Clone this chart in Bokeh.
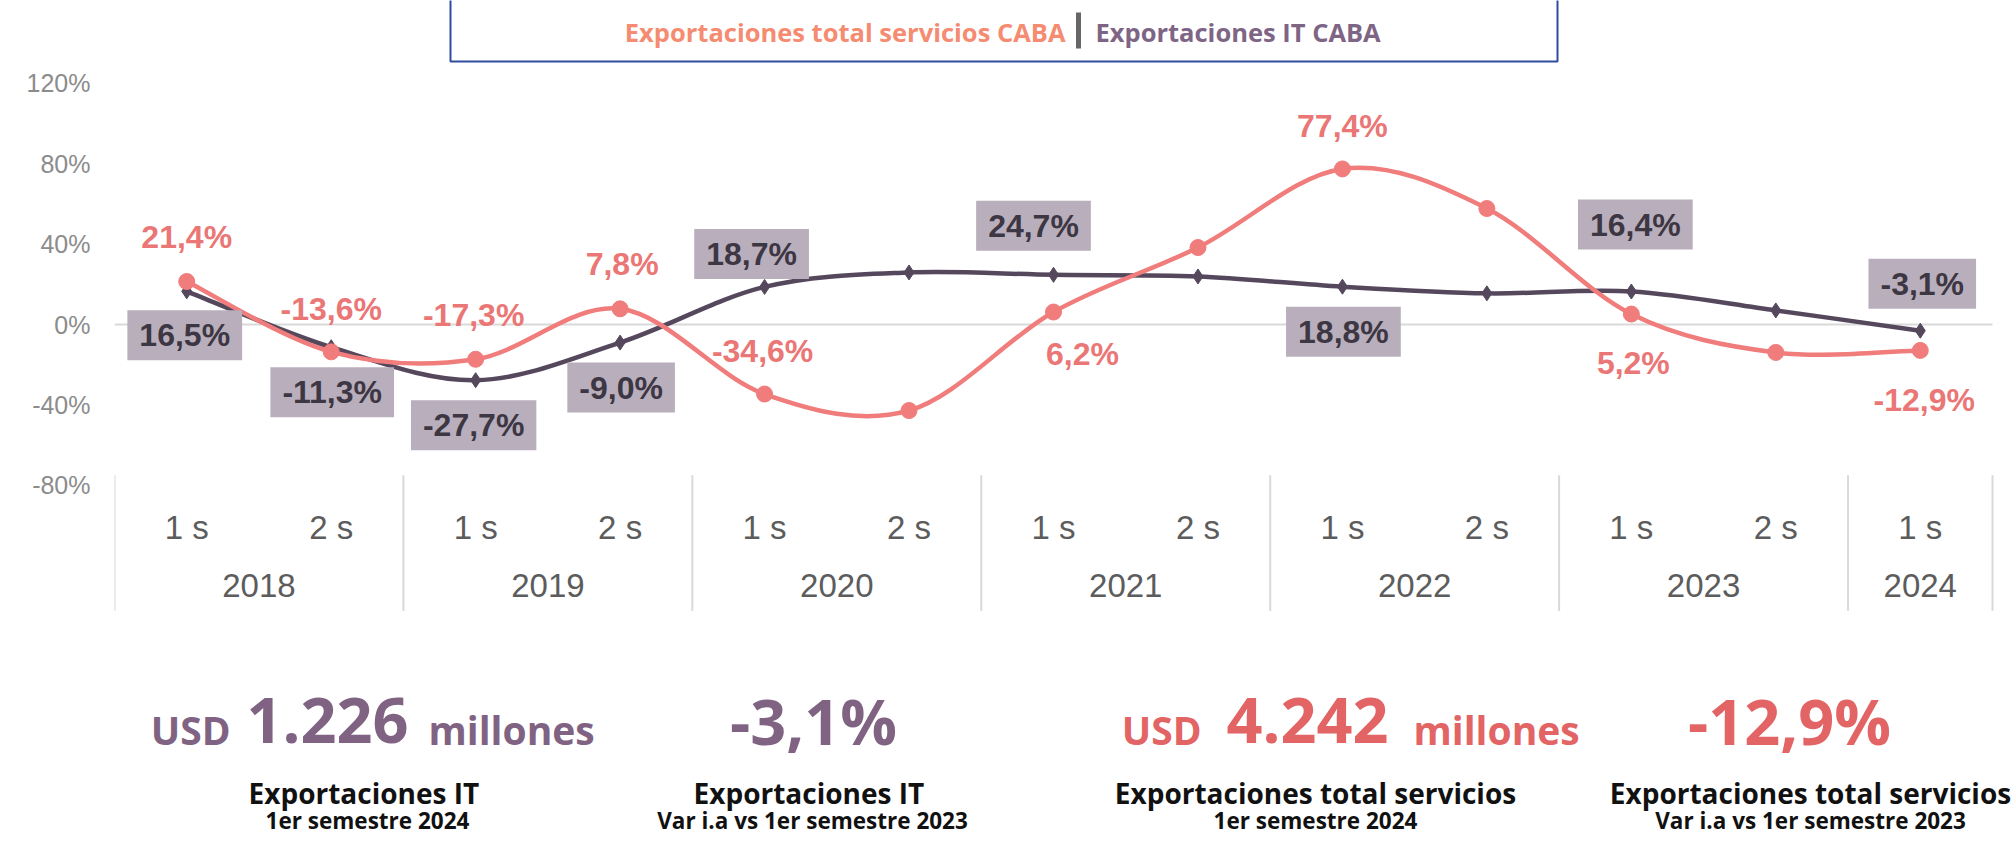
import numpy as np
from bokeh.plotting import figure
from bokeh.models import Range1d, FixedTicker, ColumnDataSource, PrintfTickFormatter
from bokeh.core.properties import value
from bokeh.embed import file_html
from bokeh.resources import INLINE

# ---------------- data ----------------
semestres = ["1 s", "2 s", "1 s", "2 s", "1 s", "2 s", "1 s", "2 s", "1 s", "2 s", "1 s", "2 s", "1 s"]
anios = ["2018", "2019", "2020", "2021", "2022", "2023", "2024"]
semestres_por_anio = [2, 2, 2, 2, 2, 2, 1]
total_servicios = [21.4, -13.6, -17.3, 7.8, -34.6, -42.8, 6.2, 38.3, 77.4, 57.7, 5.2, -13.9, -12.9]
exportaciones_it = [16.5, -11.3, -27.7, -9.0, 18.7, 25.9, 24.7, 23.9, 18.8, 15.5, 16.4, 7.0, -3.1]
etiquetados = [0, 1, 2, 3, 4, 6, 8, 10, 12]
y_ticks = [-80, -40, 0, 40, 80, 120]

legend_total = "Exportaciones total servicios CABA"
legend_it = "Exportaciones IT CABA"

kpi_prefix = ["USD", None, "USD", None]
kpi_value = ["1.226", "-3,1%", "4.242", "-12,9%"]
kpi_suffix = ["millones", None, "millones", None]
kpi_title = ["Exportaciones  IT", "Exportaciones  IT", "Exportaciones total servicios", "Exportaciones total servicios"]
kpi_sub = ["1er semestre 2024", "Var i.a vs 1er semestre 2023", "1er semestre 2024", "Var i.a vs 1er semestre 2023"]

# ---------------- styles / layout ----------------
C_TOTAL = "#f07c7c"
C_TOTAL_TXT = "#ea7676"
C_IT = "#55485d"
C_BOX = "#b9afbc"
C_BOX_TXT = "#3d3643"
C_LEG_TOTAL = "#f58b70"
C_LEG_IT = "#7e6585"
C_KPI_IT = "#806383"
C_KPI_TOT = "#e26464"
FONT = value("Liberation Sans")
KFONT = value("Open Sans")

W, H = 2016, 847
FL = 114                      # frame left (px)
SLOT = (1992 - FL) / 13.0     # px per semester slot
Y_ZERO_PX, PX_PER_UNIT = 324, 2.01
y_top = Y_ZERO_PX / PX_PER_UNIT
y_bot = -(H - Y_ZERO_PX) / PX_PER_UNIT

n = len(semestres)
xs = [i + 0.5 for i in range(n)]

p = figure(width=W, height=H, output_backend="svg", toolbar_location=None,
           x_range=Range1d(0, (W - FL) / SLOT), y_range=Range1d(y_bot, y_top),
           x_axis_type=None, min_border_left=FL, min_border_right=0,
           min_border_top=0, min_border_bottom=0)
p.outline_line_color = None
p.background_fill_color = "white"
p.border_fill_color = "white"
p.extra_x_ranges = {"px": Range1d(FL, W)}
p.extra_y_ranges = {"px": Range1d(H, 0)}

ax = p.yaxis[0]
ax.ticker = FixedTicker(ticks=y_ticks)
ax.formatter = PrintfTickFormatter(format="%d%%")
ax.axis_line_color = None
ax.major_tick_line_color = None
ax.minor_tick_line_color = None
ax.major_tick_in = 0
ax.major_tick_out = 0
ax.major_label_standoff = 24
ax.major_label_text_font = "Liberation Sans"
ax.major_label_text_font_size = "25px"
ax.major_label_text_color = "#8c8c8c"
p.ygrid.visible = False

# zero line
p.segment(x0=[0], x1=[n], y0=[0], y1=[0], line_color="#d9d9d9", line_width=2)

# year separators and category labels
bounds = [0] + [int(b) for b in np.cumsum(semestres_por_anio)]
p.segment(x0=bounds, x1=bounds, y0=[-75] * len(bounds), y1=[-142.5] * len(bounds),
          line_color="#d9d9d9", line_width=2)
p.text(x=xs, y=[-101] * n, text=semestres, text_font=FONT, text_font_size="33px",
       text_color="#5c5c5c", text_align="center", text_baseline="middle")
year_centers = [(bounds[i] + bounds[i + 1]) / 2 for i in range(len(anios))]
p.text(x=year_centers, y=[-130] * len(anios), text=anios, text_font=FONT, text_font_size="33px",
       text_color="#5c5c5c", text_align="center", text_baseline="middle")


def bezier_src(xv, yv, t=1 / 6):
    m = len(xv)
    d = dict(x0=[], y0=[], x1=[], y1=[], cx0=[], cy0=[], cx1=[], cy1=[])
    for i in range(m - 1):
        a = i - 1 if i > 0 else i
        b = i + 2 if i + 2 < m else i + 1
        d["x0"].append(xv[i]); d["y0"].append(yv[i])
        d["x1"].append(xv[i + 1]); d["y1"].append(yv[i + 1])
        d["cx0"].append(xv[i] + (xv[i + 1] - xv[a]) * t)
        d["cy0"].append(yv[i] + (yv[i + 1] - yv[a]) * t)
        d["cx1"].append(xv[i + 1] - (xv[b] - xv[i]) * t)
        d["cy1"].append(yv[i + 1] - (yv[b] - yv[i]) * t)
    return ColumnDataSource(d)


# IT series
p.bezier(x0="x0", y0="y0", x1="x1", y1="y1", cx0="cx0", cy0="cy0", cx1="cx1", cy1="cy1",
         source=bezier_src(xs, exportaciones_it), line_color=C_IT, line_width=4.5)
p.scatter(xs, exportaciones_it, marker="diamond", size=15, color=C_IT)

# total servicios series
p.bezier(x0="x0", y0="y0", x1="x1", y1="y1", cx0="cx0", cy0="cy0", cx1="cx1", cy1="cy1",
         source=bezier_src(xs, total_servicios), line_color=C_TOTAL, line_width=4.5)
p.scatter(xs, total_servicios, marker="circle", size=16, color=C_TOTAL)


def fmt(v):
    return f"{v:.1f}".replace(".", ",") + "%"


# label offsets (px)
tot_dx = [0, 0, -2, 2, -2, 29, 0, 2, 4]
tot_dy = [-44, -43, -44, -45, -43, 42, -43, 49, 50]
it_dx = [-2, 1, -2, 1, -13, -20, 1, 4, 2]
it_dy = [44, 45, 45, 45, -33, -49, 45, -67, -47]

tsrc = ColumnDataSource(dict(x=[xs[i] for i in etiquetados],
                             y=[total_servicios[i] for i in etiquetados],
                             t=[fmt(total_servicios[i]) for i in etiquetados],
                             dx=tot_dx, dy=tot_dy))
p.text(x="x", y="y", text="t", x_offset="dx", y_offset="dy", source=tsrc,
       text_font=FONT, text_font_size="32px", text_font_style="bold",
       text_color=C_TOTAL_TXT, text_align="center", text_baseline="middle")

isrc = ColumnDataSource(dict(x=[xs[i] for i in etiquetados],
                             y=[exportaciones_it[i] for i in etiquetados],
                             t=[fmt(exportaciones_it[i]) for i in etiquetados],
                             dx=it_dx, dy=it_dy))
p.text(x="x", y="y", text="t", x_offset="dx", y_offset="dy", source=isrc,
       text_font=FONT, text_font_size="32px", text_font_style="bold",
       text_color=C_BOX_TXT, text_align="center", text_baseline="middle",
       background_fill_color=C_BOX, padding=(12, 7))

# legend box
PX = dict(x_range_name="px", y_range_name="px")
p.quad(left=[450], right=[1557], top=[-10], bottom=[61], fill_color=None,
       line_color="#2f4c9e", line_width=2, **PX)
p.text(x=[1065], y=[31], text=[legend_total], text_font=KFONT, text_font_size="25.5px",
       text_font_style="bold", text_color=C_LEG_TOTAL, text_align="right",
       text_baseline="middle", **PX)
p.segment(x0=[1078], x1=[1078], y0=[12], y1=[48], line_color="#666666", line_width=5, **PX)
p.text(x=[1095], y=[31], text=[legend_it], text_font=KFONT, text_font_size="25.5px",
       text_font_style="bold", text_color=C_LEG_IT, text_align="left",
       text_baseline="middle", **PX)

# KPI block (vertical centres of each text line)
kpi_center = [367, 812, 1315, 1810]
kpi_colors = [C_KPI_IT, C_KPI_IT, C_KPI_TOT, C_KPI_TOT]
pre_right = [230, None, 1201, None]
suf_left = [428, None, 1413, None]
val_center = [327, 813, 1307, 1789]
Y_BIG, Y_SMALL = 720, 729
for k in range(4):
    col = kpi_colors[k]
    if kpi_prefix[k]:
        p.text(x=[pre_right[k]], y=[Y_SMALL], text=[kpi_prefix[k]], text_font=KFONT,
               text_font_size="39px", text_font_style="bold", text_color=col,
               text_align="right", text_baseline="middle", **PX)
    p.text(x=[val_center[k]], y=[Y_BIG], text=[kpi_value[k]], text_font=KFONT,
           text_font_size="63px", text_font_style="bold", text_color=col,
           text_align="center", text_baseline="middle", **PX)
    if kpi_suffix[k]:
        p.text(x=[suf_left[k]], y=[Y_SMALL], text=[kpi_suffix[k]], text_font=KFONT,
               text_font_size="39px", text_font_style="bold", text_color=col,
               text_align="left", text_baseline="middle", **PX)
    p.text(x=[kpi_center[k]], y=[792], text=[kpi_title[k]], text_font=KFONT,
           text_font_size="28px", text_font_style="bold", text_color="#111111",
           text_align="center", text_baseline="middle", **PX)
    p.text(x=[kpi_center[k]], y=[820], text=[kpi_sub[k]], text_font=KFONT,
           text_font_size="22.5px", text_font_style="bold", text_color="#111111",
           text_align="center", text_baseline="middle", **PX)

open("out.html", "w").write(file_html(p, INLINE))
